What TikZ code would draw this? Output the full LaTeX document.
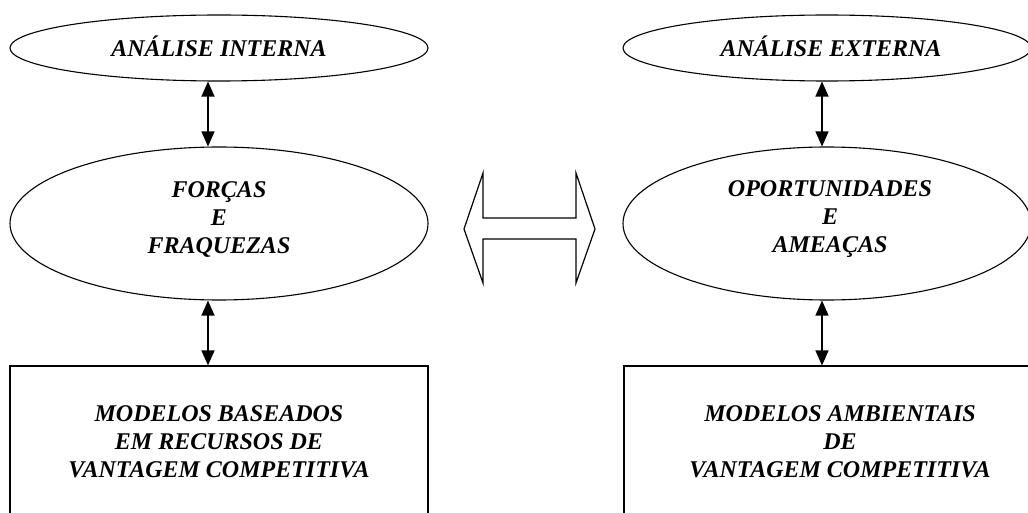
\documentclass[tikz,border=0pt]{standalone}
\usepackage{fontspec}
\setmainfont{Liberation Serif}
\usetikzlibrary{shapes.geometric,arrows.meta}
\begin{document}
\begin{tikzpicture}[x=1pt,y=-1pt,
  oval/.style={draw,ellipse,line width=1.1pt,inner sep=0pt},
  lbl/.style={inner sep=0pt,align=center,font=\fontsize{24}{28}\selectfont\bfseries\itshape},
  modelbox/.style={draw,rectangle,line width=1.1pt,inner sep=0pt,align=center,font=\fontsize{24}{28}\selectfont\bfseries\itshape},
  link/.style={line width=1.2pt,{Triangle[width=13pt,length=15pt]}-{Triangle[width=13pt,length=15pt]}},
  bigarrow/.style={draw,line width=1.2pt,line join=miter}]
\useasboundingbox (0,0) rectangle (1028,513);
\fill[white] (0,0) rectangle (1028,513);
\clip (0,0) rectangle (1028,513);
% left column
\node[oval,minimum width=418pt,minimum height=66pt] (ai) at (219,48) {};
\node[lbl] (aitxt) at (219,46) {ANÁLISE INTERNA};
\node[oval,minimum width=418pt,minimum height=153pt] (ff) at (219,223.5) {};
\node[lbl] (fftxt) at (219,219.5) {FORÇAS\\E\\FRAQUEZAS};
\node[modelbox,minimum width=418pt,minimum height=152pt] (mr) at (219,442)
  {MODELOS BASEADOS\\EM RECURSOS DE\\VANTAGEM COMPETITIVA};
% right column
\node[oval,minimum width=408pt,minimum height=66pt] (ae) at (827,48) {};
\node[lbl] (aetxt) at (831,46) {ANÁLISE EXTERNA};
\node[oval,minimum width=408pt,minimum height=153pt] (oa) at (827,223.5) {};
\node[lbl] (oatxt) at (830,219.5) {OPORTUNIDADES\\E\\AMEAÇAS};
\node[modelbox,minimum width=432pt,minimum height=152pt] (ma) at (840,442)
  {MODELOS AMBIENTAIS\\DE\\VANTAGEM COMPETITIVA};
% connectors
\draw[link] ([xshift=-11pt]ai.south) -- ([xshift=-11pt]ff.north);
\draw[link] ([xshift=-11pt]ff.south) -- ([xshift=-11pt]mr.north);
\draw[link] ([xshift=-5pt]ae.south) -- ([xshift=-5pt]oa.north);
\draw[link] ([xshift=-5pt]oa.south) -- ([xshift=-18pt]ma.north);
% central double block arrow
\draw[bigarrow] (464,229) -- (483,173) -- (483,218) -- (576,218) -- (576,173)
  -- (595,229) -- (576,283) -- (576,239) -- (483,239) -- (483,283) -- cycle;
\end{tikzpicture}
\end{document}
